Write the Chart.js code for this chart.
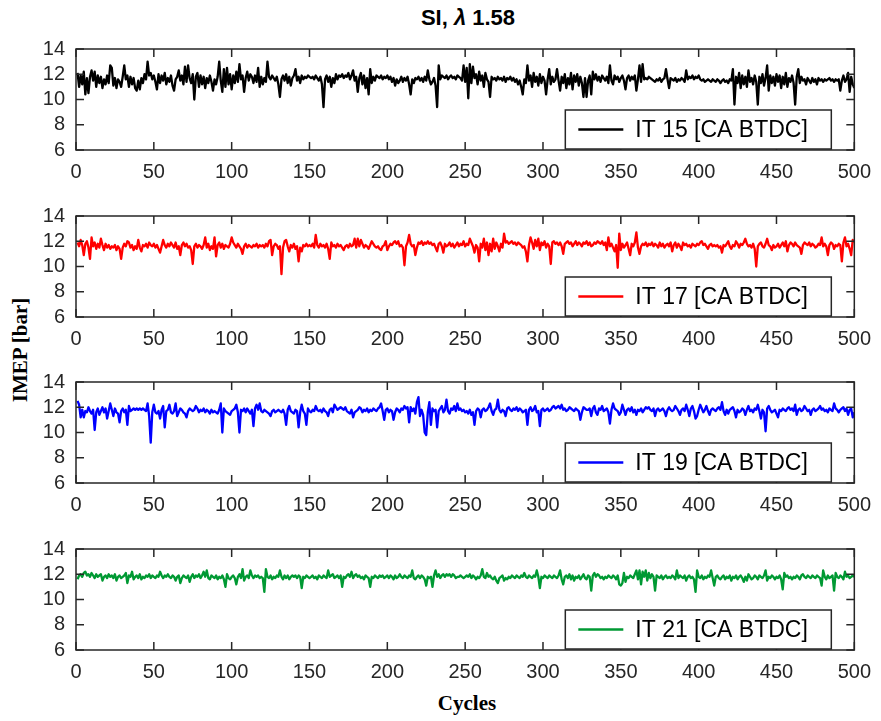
<!DOCTYPE html>
<html><head><meta charset="utf-8">
<script src="https://cdn.jsdelivr.net/npm/chart.js@4.4.0/dist/chart.umd.min.js"></script>
<style>
html,body{margin:0;padding:0;background:#fff;}
body{width:881px;height:721px;position:relative;overflow:hidden;}
canvas{position:absolute;left:0;}
.t{position:absolute;white-space:nowrap;color:#000;}
</style></head><body>
<div class="t" style="left:468px;top:18px;transform:translate(-50%,-50%);font:bold 22px 'Liberation Sans',Arial,sans-serif;">SI, <i>λ</i> 1.58</div>
<div class="t" style="left:20px;top:350px;transform:translate(-50%,-50%) rotate(-90deg);font:bold 21px 'Liberation Serif','Times New Roman',serif;">IMEP [bar]</div>
<div class="t" style="left:467px;top:703px;transform:translate(-50%,-50%);font:bold 21px 'Liberation Serif','Times New Roman',serif;">Cycles</div>
<script>
const xTicks = [0,50,100,150,200,250,300,350,400,450,500];
const yTicks = [6,8,10,12,14];
const seriesLabels = ['IT 15 [CA BTDC]','IT 17 [CA BTDC]','IT 19 [CA BTDC]','IT 21 [CA BTDC]'];
const seriesColors = ['#000000','#ff0000','#0000ff','#009933'];
const cycles = Array.from({length:500},(_,i)=>i+1);

const it15 = [
12.1,11.0,11.9,11.2,12.2,10.4,11.7,10.5,11.8,12.3,
11.5,12.2,11.0,11.9,11.3,11.8,10.9,11.6,11.2,11.9,
11.3,12.7,12.5,11.1,11.7,10.9,11.6,11.4,11.0,11.8,
12.7,11.6,11.9,11.0,11.8,11.2,11.7,10.9,10.7,11.5,
10.8,11.7,11.3,12.0,11.6,13.0,11.9,12.1,11.6,11.9,
11.4,10.8,12.0,11.3,11.9,11.5,12.1,11.2,11.7,11.4,
11.9,11.1,10.7,11.6,11.8,12.3,11.5,11.9,11.2,12.6,
11.4,12.7,11.7,11.3,12.0,10.0,11.8,12.1,11.0,11.9,
11.2,11.8,10.9,11.7,11.3,11.9,11.4,10.7,11.6,11.2,
11.8,13.0,11.5,10.6,12.4,11.0,12.5,11.2,12.0,10.8,
11.9,11.3,12.2,11.4,12.8,11.6,11.9,10.6,11.7,12.2,
11.5,12.0,11.8,11.3,11.9,11.4,12.5,11.0,11.8,11.2,
11.7,11.4,13.0,11.8,11.6,11.9,11.7,11.5,11.8,11.2,
10.2,11.6,11.9,11.5,12.0,11.3,11.8,11.1,11.7,11.9,
12.4,11.5,11.8,11.3,11.9,11.6,11.8,11.7,11.9,11.8,
11.7,11.8,11.6,11.9,11.7,11.5,11.8,11.2,9.4,11.6,
11.9,11.4,11.8,11.0,11.7,11.3,12.0,11.6,11.9,11.8,
12.0,11.7,11.9,11.8,12.1,11.6,11.9,12.3,11.5,11.8,
10.6,11.7,12.1,11.2,11.9,10.9,11.7,10.4,12.4,11.3,
11.8,11.5,11.9,11.8,11.7,11.9,11.6,11.8,11.7,11.9,
11.6,11.8,11.4,11.7,11.1,11.6,11.3,11.5,11.8,11.4,
11.7,11.5,11.8,11.2,10.4,11.6,11.3,11.7,11.6,11.8,
11.5,11.7,11.4,11.8,11.5,12.3,11.6,11.2,11.4,11.7,
11.1,9.4,12.7,11.6,11.9,11.8,11.7,11.9,11.6,11.8,
11.9,11.7,11.8,11.6,11.9,11.8,11.7,11.5,12.7,11.4,
12.5,10.1,12.8,11.3,12.6,11.7,12.0,11.2,12.2,11.5,
11.9,11.0,12.1,11.6,11.4,10.2,11.8,11.6,11.7,11.5,
11.8,11.6,11.7,11.5,11.8,11.4,11.7,11.6,11.8,11.5,
11.7,11.4,11.6,11.2,11.5,11.0,10.4,11.6,11.3,12.7,
11.5,11.9,11.0,12.1,11.4,11.8,11.1,12.0,11.3,11.8,
11.5,10.4,11.6,12.4,11.2,11.8,11.4,11.6,12.4,11.5,
10.7,11.8,11.3,12.0,10.9,11.7,11.2,12.1,10.8,11.9,
11.4,12.0,11.1,11.8,11.3,10.2,11.7,10.2,11.5,11.9,
10.4,12.2,11.6,12.0,11.5,11.8,11.4,11.9,11.7,11.5,
11.8,11.3,12.7,11.5,11.2,11.9,11.6,11.8,11.4,11.7,
11.9,11.5,10.8,11.7,11.9,11.5,11.8,11.6,11.9,10.7,
11.6,12.7,11.4,12.8,11.6,11.7,11.6,11.8,11.7,11.6,
11.5,11.4,11.6,11.5,11.7,11.4,11.6,11.7,12.4,11.6,
10.9,11.7,11.6,11.5,11.7,11.4,11.6,11.5,11.7,11.6,
11.4,12.3,11.6,11.8,11.7,11.9,11.6,11.8,11.7,11.9,
11.6,11.5,11.6,11.4,11.5,11.6,11.5,11.4,11.6,11.5,
11.4,11.6,11.5,11.3,11.5,11.6,11.4,11.5,11.3,11.6,
11.5,12.4,9.6,11.8,11.3,12.1,10.9,11.9,11.2,11.8,
11.0,12.3,11.4,11.7,11.2,11.9,11.4,9.6,11.8,11.3,
12.0,11.1,11.7,12.7,10.7,11.9,11.3,11.8,11.1,12.0,
11.4,11.9,10.9,11.8,11.2,12.1,11.0,11.7,11.4,11.9,
11.3,9.6,11.8,12.4,11.3,11.8,11.5,11.6,11.2,11.7,
11.5,11.3,11.7,11.4,11.6,11.2,11.7,11.5,11.6,11.4,
11.6,11.5,11.6,11.7,11.5,11.6,11.4,11.6,11.5,11.6,
10.7,11.5,11.9,11.4,11.6,12.1,10.6,11.8,11.2,10.9];

const it17 = [
11.9,11.6,12.1,11.7,10.9,11.8,12.0,11.5,10.6,12.3,
11.6,11.9,11.4,11.8,11.5,12.2,11.7,11.3,11.8,11.5,
11.7,11.4,11.6,11.5,11.7,11.3,11.6,11.4,10.6,11.5,
11.8,11.6,12.0,11.9,11.5,11.7,11.3,11.6,11.4,12.1,
11.5,11.2,11.7,11.6,11.8,11.5,11.9,11.7,11.6,11.8,
11.5,11.7,11.4,11.1,11.6,12.1,11.7,11.5,11.8,11.6,
11.9,11.7,11.5,11.9,11.4,11.6,10.9,11.7,11.9,11.6,
11.8,11.5,11.6,11.3,10.2,11.6,11.8,11.5,11.7,11.6,
11.4,11.7,12.3,11.5,11.8,11.3,11.6,11.4,12.3,10.8,
11.7,11.9,11.5,11.8,11.4,11.7,11.6,11.5,11.8,12.3,
11.9,11.7,11.5,11.8,11.6,11.4,11.0,11.6,11.8,11.5,
11.7,11.6,11.5,11.7,11.6,11.8,11.5,11.7,11.6,11.7,
11.5,11.8,11.6,12.0,12.1,10.9,11.6,11.8,11.7,11.4,
11.6,9.4,11.5,12.0,12.1,11.6,11.2,11.7,11.5,11.8,
11.4,11.6,10.4,11.5,11.2,11.7,11.6,11.8,11.6,11.7,
11.6,11.8,11.5,12.5,11.7,11.5,11.8,11.6,11.7,11.5,
11.8,11.4,10.6,11.9,11.6,11.7,11.5,11.8,11.6,11.7,
11.5,11.3,11.6,11.7,11.5,11.8,11.6,11.7,12.2,11.5,
12.2,11.6,12.1,11.8,11.5,11.7,11.6,11.4,11.7,12.0,
11.8,11.6,11.5,11.6,11.4,11.3,11.6,11.7,12.0,11.3,
11.6,11.8,11.7,11.9,12.0,11.8,12.0,11.6,11.7,11.5,
10.1,11.6,11.9,12.5,11.8,11.6,11.7,10.9,11.5,11.9,
11.8,12.0,11.7,11.9,11.8,12.0,11.8,11.9,11.7,11.8,
11.5,11.2,11.8,11.9,11.6,11.1,11.8,11.6,11.7,11.9,
11.6,11.8,11.5,11.7,11.9,11.6,11.8,11.7,12.0,11.6,
11.8,11.7,12.2,11.9,11.6,11.1,11.7,11.5,10.4,11.8,
11.5,12.2,11.3,11.9,10.9,11.8,11.2,12.2,11.4,11.9,
11.6,11.2,11.8,11.5,12.6,11.9,12.0,11.8,11.9,12.0,
11.8,11.9,11.7,11.9,11.8,11.7,11.5,11.6,11.2,10.4,
11.7,12.3,11.9,11.4,12.1,11.6,12.2,11.3,11.9,11.7,
12.0,11.5,11.8,11.6,10.2,11.9,12.0,11.8,11.9,11.7,
11.9,11.6,11.0,11.8,11.9,12.0,11.8,11.9,11.6,11.8,
12.0,11.7,11.9,11.8,11.6,11.9,11.8,12.0,11.7,11.9,
11.6,11.7,11.9,11.8,12.0,11.9,11.8,12.0,11.7,11.9,
11.3,12.3,11.6,11.8,11.5,11.2,11.7,9.9,12.6,11.3,
11.8,11.5,11.7,11.9,11.4,10.9,11.8,11.6,11.9,12.7,
11.5,11.0,11.6,11.8,11.7,11.9,11.6,11.8,11.7,11.9,
11.6,11.8,11.7,11.5,11.9,11.6,11.8,11.5,11.7,11.8,
11.6,11.9,11.2,11.7,11.9,11.5,11.8,11.6,11.3,11.9,
11.7,11.8,11.6,11.7,11.5,11.8,11.7,11.6,11.8,11.7,
11.9,12.0,11.7,11.8,11.6,11.4,11.7,11.8,11.6,11.7,
11.6,11.7,11.5,11.6,11.1,11.7,11.6,11.8,12.0,11.6,
11.4,11.7,11.6,12.0,11.8,11.5,11.8,11.7,11.9,12.2,
11.8,11.6,11.7,11.5,11.8,11.4,10.0,11.6,11.8,11.9,
11.6,11.5,11.8,12.2,11.7,11.6,11.3,11.7,11.5,11.6,
11.8,11.5,11.7,11.9,11.6,12.0,11.2,11.7,11.9,11.8,
11.6,11.9,11.7,11.6,11.5,11.0,11.7,11.9,11.8,11.7,
11.9,11.6,11.8,11.7,11.5,11.6,11.8,11.7,12.3,11.6,
11.8,11.6,10.9,11.7,11.9,11.8,11.4,11.7,11.6,11.8,
11.7,10.4,11.9,12.3,11.6,11.8,11.4,10.9,12.1,11.9];

const it19 = [
12.5,12.2,11.2,11.8,11.2,11.7,11.6,12.0,11.7,11.5,
11.8,10.2,11.6,11.9,11.4,11.7,12.0,11.6,11.9,11.1,
11.7,12.3,11.8,11.3,11.9,11.6,11.5,10.8,11.7,11.9,
11.6,11.8,10.6,12.1,11.7,11.8,11.9,11.8,11.9,11.8,
11.9,11.8,11.9,11.8,11.7,12.3,11.3,9.2,11.6,12.2,
11.6,11.5,11.7,11.1,11.8,12.1,10.4,11.7,11.8,12.2,
11.6,11.5,11.7,12.3,11.3,11.6,11.9,11.8,11.6,11.5,
11.2,11.7,11.9,11.8,11.7,11.8,12.1,11.9,11.6,11.8,
11.7,11.9,11.6,11.8,11.7,11.5,11.8,11.6,11.7,11.6,
11.5,11.8,12.3,10.0,11.9,11.7,11.6,11.5,11.4,11.7,
11.8,11.9,12.2,11.6,10.0,11.8,11.7,11.9,11.6,11.9,
11.7,11.5,11.8,10.5,11.9,12.2,11.8,12.3,11.7,11.6,
11.8,11.7,11.6,11.5,11.3,11.7,11.8,11.6,11.7,11.8,
11.7,11.6,11.8,11.5,10.6,11.8,12.1,11.7,11.6,11.5,
11.8,11.7,10.4,11.6,12.2,11.7,11.5,10.6,11.9,11.7,
11.6,11.8,11.7,12.1,11.8,11.7,11.8,11.6,11.9,11.7,
11.6,11.3,11.8,11.9,11.6,12.2,12.0,11.8,11.9,12.0,
11.9,11.8,12.0,11.7,11.6,11.5,11.8,11.2,11.6,11.7,
11.8,12.0,11.9,11.6,11.8,11.7,11.9,11.6,11.8,11.7,
11.9,11.8,11.7,11.9,12.0,12.3,11.7,11.0,11.8,11.9,
11.6,11.8,11.7,11.0,11.6,11.9,11.8,11.6,11.9,11.8,
12.1,11.9,12.0,10.8,12.0,11.7,11.9,11.5,12.4,12.8,
11.3,11.8,11.4,10.0,9.8,11.6,12.4,10.6,11.9,11.7,
11.8,10.4,11.7,11.9,12.1,11.6,11.8,12.6,11.7,11.5,
11.9,11.8,12.1,11.7,12.3,11.8,11.9,11.7,11.8,11.6,
11.7,11.5,11.8,11.4,11.6,10.6,11.7,11.9,11.8,11.2,
11.8,11.9,11.7,11.8,12.0,12.3,11.7,11.4,11.8,11.9,
12.6,11.8,11.6,11.8,11.7,11.3,11.9,12.0,11.8,11.7,
11.9,11.8,12.0,11.7,11.9,11.8,11.6,11.7,11.8,10.6,
11.8,12.0,11.7,11.8,12.1,11.6,11.7,10.5,11.8,11.9,
11.7,11.8,11.9,11.7,11.8,12.0,12.1,11.9,12.0,12.1,
11.9,12.2,11.8,11.9,11.7,11.8,12.0,11.9,11.8,11.7,
11.9,11.8,11.7,11.0,11.6,12.0,11.9,11.8,11.8,11.9,
11.3,11.9,12.1,11.6,11.4,11.9,11.8,12.1,11.7,11.8,
11.9,11.6,10.7,11.8,12.3,11.9,11.8,11.7,11.4,11.6,
12.2,11.8,11.4,11.8,11.9,11.7,12.0,11.6,11.8,11.4,
11.8,11.7,11.9,11.6,11.8,12.0,11.9,12.0,11.8,11.7,
11.9,11.3,11.8,11.9,11.7,11.8,11.9,11.7,11.3,11.8,
12.0,11.8,11.7,11.8,12.1,11.9,11.7,11.4,11.8,11.9,
11.7,12.2,11.8,11.3,11.9,12.1,11.7,11.1,11.3,11.8,
12.2,11.9,11.6,11.8,12.1,11.7,11.4,11.8,11.9,11.8,
11.7,11.9,12.0,11.8,12.4,11.7,11.4,11.8,11.5,11.8,
11.9,12.0,11.7,11.2,11.8,11.6,11.7,11.9,11.8,11.4,
11.8,12.1,11.7,11.8,11.6,11.9,11.8,12.2,11.7,11.1,
11.8,11.6,10.1,11.9,12.1,11.8,11.6,11.7,11.8,11.5,
11.2,11.8,11.7,11.9,11.8,11.7,11.9,12.0,11.8,11.9,
11.7,12.2,11.4,11.8,11.9,11.7,11.8,12.1,11.9,11.7,
11.8,11.4,11.8,11.9,11.7,11.8,11.9,12.1,11.8,11.9,
11.7,11.8,11.6,11.9,11.8,11.7,12.3,11.9,11.8,11.6,
11.8,11.9,12.0,11.7,11.9,11.4,11.8,11.9,11.2,11.6];

const it21 = [
11.6,11.9,12.0,11.8,12.1,12.2,11.9,12.0,11.8,12.1,
11.9,11.7,12.0,11.8,11.9,12.0,11.5,11.8,11.9,11.7,
12.0,11.8,11.9,11.7,12.0,11.5,11.8,11.9,11.7,11.8,
11.9,12.1,11.3,11.9,11.8,12.2,11.6,11.8,11.9,11.7,
12.0,11.6,11.8,11.7,11.9,11.8,12.0,11.7,11.9,11.8,
11.7,11.9,11.8,12.2,11.9,11.7,11.9,11.8,12.0,11.8,
11.7,11.9,11.8,11.5,11.8,11.9,11.3,11.7,11.9,11.8,
11.7,11.9,11.4,11.8,12.0,11.7,11.9,11.8,12.0,11.7,
11.9,12.2,11.8,12.3,11.7,11.6,11.9,11.8,11.7,11.9,
11.6,11.8,11.7,11.9,11.6,11.0,12.0,11.7,11.6,11.8,
11.9,11.7,11.2,11.8,12.0,11.7,12.4,11.5,11.8,11.9,
11.7,12.3,11.9,11.7,11.9,11.8,11.9,11.7,11.8,11.7,
10.6,12.4,11.8,11.7,11.9,11.6,11.8,11.7,11.9,11.8,
12.3,11.8,11.6,11.9,11.7,11.9,11.6,11.8,11.9,11.8,
11.9,11.7,11.9,11.8,10.9,11.8,11.7,11.9,11.8,11.7,
11.8,11.9,11.7,11.8,11.6,11.9,11.8,11.7,11.9,11.8,
11.7,12.3,11.8,11.9,12.0,11.7,11.8,11.9,11.7,11.9,
11.0,11.8,11.7,11.9,12.0,11.8,12.2,11.7,11.9,12.0,
11.8,11.9,11.7,11.8,11.6,11.9,11.8,11.7,11.0,11.8,
11.7,11.9,11.8,11.7,11.9,11.8,11.9,11.7,11.8,11.9,
11.7,11.9,11.8,11.6,11.9,11.7,11.8,12.0,11.8,11.7,
11.9,11.8,11.7,11.9,11.8,12.3,11.7,11.6,11.8,11.9,
11.7,11.9,11.8,11.6,11.1,11.8,11.7,11.8,11.0,11.9,
12.3,11.8,12.0,11.7,11.9,12.0,11.8,12.0,11.9,12.0,
11.8,12.0,11.9,11.7,11.8,11.8,11.9,11.8,11.7,11.8,
11.9,11.8,12.0,11.7,11.9,11.8,11.6,11.8,11.7,11.9,
12.4,11.8,11.7,12.1,11.8,11.9,11.7,11.6,11.8,11.5,
11.3,11.7,11.8,11.9,11.5,11.7,11.6,11.8,11.7,11.9,
11.8,11.7,11.9,11.8,11.7,11.9,11.8,12.1,11.8,11.7,
11.9,11.8,11.7,11.9,11.8,12.3,11.8,10.9,11.8,11.7,
11.9,11.8,11.7,11.9,11.8,11.7,11.9,11.8,11.7,11.9,
12.3,11.6,11.2,11.8,11.9,11.7,12.0,11.6,11.9,11.5,
11.8,11.7,11.9,11.6,11.8,12.0,11.7,11.6,11.9,11.8,
10.7,11.9,12.1,11.8,12.0,11.9,11.7,11.8,11.6,11.8,
11.7,11.9,11.8,11.7,11.9,11.8,11.6,11.9,11.2,11.1,
11.3,12.1,11.4,11.8,11.7,11.9,11.8,11.7,12.0,12.3,
11.6,12.3,11.2,12.2,11.8,12.3,11.5,12.1,11.7,12.0,
11.8,10.7,11.9,11.8,11.7,11.9,11.6,11.8,11.9,11.7,
11.8,11.7,11.9,11.8,11.6,12.3,11.7,11.9,11.8,11.7,
11.9,11.5,11.8,11.9,11.7,11.8,11.6,10.6,12.3,11.8,
11.7,11.9,11.6,11.8,11.7,11.9,11.8,12.3,11.7,11.1,
11.8,11.9,11.7,11.6,11.8,11.9,11.6,11.8,11.7,11.9,
11.5,11.8,11.7,11.9,11.6,11.8,11.9,11.7,11.4,11.8,
11.5,12.0,11.8,11.6,11.7,11.9,11.8,11.6,11.9,11.8,
11.7,11.9,12.3,11.5,11.8,11.7,11.9,11.8,11.6,11.8,
11.7,11.9,11.6,10.8,12.1,11.8,11.9,11.7,11.8,11.6,
11.8,11.7,11.9,11.8,11.6,11.9,12.0,11.8,11.7,11.9,
11.8,11.7,11.9,11.8,11.7,11.9,11.8,11.7,11.1,12.3,
11.8,11.6,11.9,11.7,11.8,11.9,10.7,12.1,11.8,11.7,
11.9,11.8,11.6,12.2,11.8,11.9,11.7,11.8,11.9,11.8];

const seriesValues = [it15, it17, it19, it21];
const panelTops = [41, 208, 374, 541];

const FONT = "'Liberation Sans', Arial, sans-serif";
const AX = '#262626';

const framePlugin = {
  id: 'frame',
  afterDatasetsDraw(chart) {
    const {ctx, chartArea: a, scales: {x, y}} = chart;
    ctx.save();
    ctx.strokeStyle = AX;
    ctx.lineWidth = 1.5;
    ctx.strokeRect(a.left, a.top, a.right - a.left, a.bottom - a.top);
    ctx.beginPath();
    xTicks.forEach(v => {
      const px = x.getPixelForValue(v);
      ctx.moveTo(px, a.bottom); ctx.lineTo(px, a.bottom - 8);
      ctx.moveTo(px, a.top); ctx.lineTo(px, a.top + 8);
    });
    yTicks.forEach(v => {
      const py = y.getPixelForValue(v);
      ctx.moveTo(a.left, py); ctx.lineTo(a.left + 8, py);
      ctx.moveTo(a.right, py); ctx.lineTo(a.right - 8, py);
    });
    ctx.stroke();
    // legend box
    const ds = chart.data.datasets[0];
    const bx = a.right - 289, by = a.top + 61, bw = 266, bh = 39;
    ctx.fillStyle = '#fff';
    ctx.fillRect(bx, by, bw, bh);
    ctx.strokeRect(bx, by, bw, bh);
    const my = by + bh / 2;
    ctx.beginPath();
    ctx.strokeStyle = ds.borderColor;
    ctx.lineWidth = 2.3;
    ctx.moveTo(bx + 13, my); ctx.lineTo(bx + 58, my);
    ctx.stroke();
    ctx.fillStyle = '#000';
    ctx.font = '23px ' + FONT;
    ctx.textBaseline = 'middle';
    ctx.textAlign = 'left';
    ctx.fillText(ds.label, bx + 70, my + 1);
    ctx.restore();
  }
};

seriesValues.forEach((vals, k) => {
  const cv = document.createElement('canvas');
  cv.width = 881; cv.height = 164;
  cv.style.top = (panelTops[k] - 15) + 'px';
  document.body.appendChild(cv);
  new Chart(cv.getContext('2d'), {
    type: 'line',
    data: {
      datasets: [{
        label: seriesLabels[k],
        data: vals.map((v, i) => ({x: cycles[i], y: v})),
        borderColor: seriesColors[k],
        borderWidth: 2.3,
        pointRadius: 0,
        tension: 0,
        fill: false,
        borderJoinStyle: 'round'
      }]
    },
    options: {
      responsive: false,
      animation: false,
      events: [],
      layout: {padding: {left: 0, right: 22, top: 15, bottom: 0}},
      plugins: {legend: {display: false}, tooltip: {enabled: false}, title: {display: false}},
      scales: {
        x: {
          type: 'linear', min: 0, max: 500,
          afterBuildTicks: s => { s.ticks = xTicks.map(v => ({value: v})); },
          afterFit: s => { s.height = 40; },
          grid: {display: false, drawTicks: false},
          border: {display: false},
          ticks: {color: AX, font: {family: FONT, size: 20}, padding: 10, maxRotation: 0, autoSkip: false}
        },
        y: {
          type: 'linear', min: 6, max: 14,
          afterBuildTicks: s => { s.ticks = yTicks.map(v => ({value: v})); },
          afterFit: s => { s.width = 76; },
          grid: {display: false, drawTicks: false},
          border: {display: false},
          ticks: {color: AX, font: {family: FONT, size: 20}, padding: 11, autoSkip: false}
        }
      }
    },
    plugins: [framePlugin]
  });
});
</script>
</body></html>
